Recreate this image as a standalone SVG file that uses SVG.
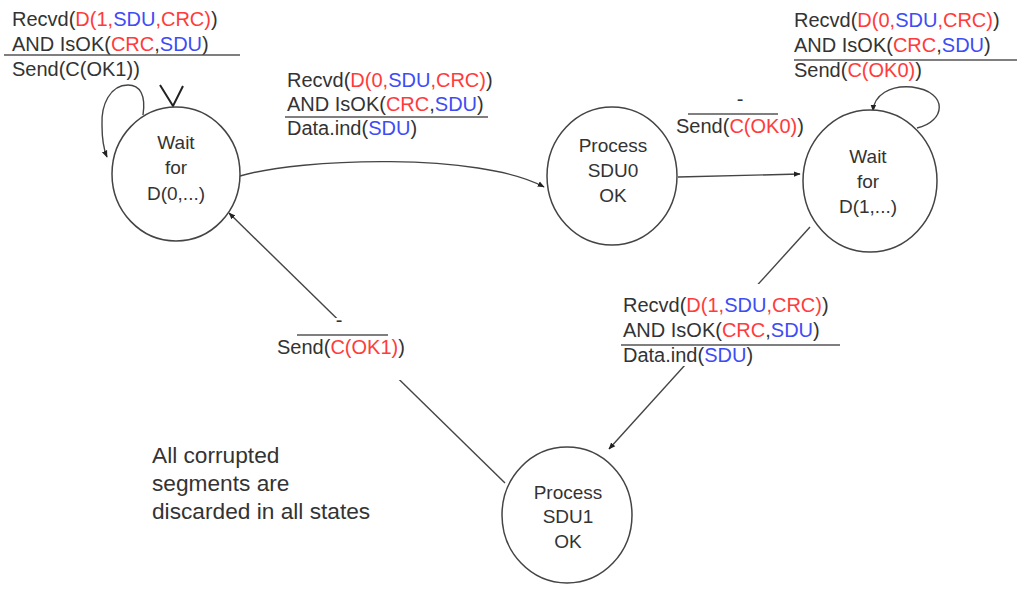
<svg xmlns="http://www.w3.org/2000/svg" width="1026" height="592" viewBox="0 0 1026 592">
<defs>
<style>
text{font-family:"Liberation Sans",Arial,Helvetica,sans-serif;fill:#333}
.lbl{font-size:20px}
.st{font-size:19px;text-anchor:middle}
.note{font-size:22.7px}
.r{fill:#ff3b3b}
.b{fill:#3d4cf5}
.node{fill:#fff;stroke:#444;stroke-width:1.5}
.edge{fill:none;stroke:#444;stroke-width:1.4}
.bar{stroke:#555;stroke-width:1.5}
</style>
<marker id="arr" viewBox="0 0 10 10" refX="9" refY="5" markerWidth="7" markerHeight="7" markerUnits="userSpaceOnUse" orient="auto">
<path d="M0,1 L10,5 L0,9 z" fill="#222"/>
</marker>
</defs>
<rect width="1026" height="592" fill="#fff"/>

<g id="connectors">
<path class="edge" d="M143,115 C146,95 140,85 128,85 C110,85 101,105 102,125 C102,140 104,150 107,157" marker-end="url(#arr)"/>
<polyline class="edge" points="160,85 173,106 183,86" style="stroke-width:2;stroke:#222"/>
<path class="edge" d="M240,176 C300,158 480,152 544,187" marker-end="url(#arr)"/>
<line class="edge" x1="678" y1="177" x2="800" y2="174" marker-end="url(#arr)"/>
<path class="edge" d="M917,128 C945,122 950,92 912,87 C890,85 874,95 873,111" marker-end="url(#arr)"/>
<line class="edge" x1="810" y1="227" x2="609" y2="449" marker-end="url(#arr)"/>
<line class="edge" x1="505" y1="483" x2="229" y2="213" marker-end="url(#arr)"/>
</g>

<g id="label-self0">
<text class="lbl" x="12" y="26">Recvd(<tspan class="r">D(1,</tspan><tspan class="b">SDU</tspan><tspan class="r">,CRC)</tspan>)</text>
<text class="lbl" x="12" y="51">AND IsOK(<tspan class="r">CRC</tspan>,<tspan class="b">SDU</tspan>)</text>
<line class="bar" x1="4" y1="55" x2="240" y2="55"/>
<text class="lbl" x="12" y="76">Send(C(OK1))</text>
</g>

<g id="label-0to1">
<text class="lbl" x="287" y="87">Recvd(<tspan class="r">D(0,</tspan><tspan class="b">SDU</tspan><tspan class="r">,CRC)</tspan>)</text>
<text class="lbl" x="287" y="111">AND IsOK(<tspan class="r">CRC</tspan>,<tspan class="b">SDU</tspan>)</text>
<line class="bar" x1="285" y1="117" x2="488" y2="117"/>
<text class="lbl" x="287" y="135">Data.ind(<tspan class="b">SDU</tspan>)</text>
</g>

<g id="label-p0tow1">
<text class="lbl" x="740" y="106" text-anchor="middle">-</text>
<line class="bar" x1="688" y1="114" x2="778" y2="114"/>
<text class="lbl" x="676" y="133">Send(<tspan class="r">C(OK0)</tspan>)</text>
</g>

<g id="label-self1">
<text class="lbl" x="794" y="27">Recvd(<tspan class="r">D(0,</tspan><tspan class="b">SDU</tspan><tspan class="r">,CRC)</tspan>)</text>
<text class="lbl" x="794" y="52">AND IsOK(<tspan class="r">CRC</tspan>,<tspan class="b">SDU</tspan>)</text>
<line class="bar" x1="794" y1="60" x2="1017" y2="60"/>
<text class="lbl" x="794" y="77">Send(<tspan class="r">C(OK0)</tspan>)</text>
</g>

<g id="label-1to1">
<rect x="616" y="284" width="228" height="82" fill="#fff"/>
<text class="lbl" x="623" y="312">Recvd(<tspan class="r">D(1,</tspan><tspan class="b">SDU</tspan><tspan class="r">,CRC)</tspan>)</text>
<text class="lbl" x="623" y="337">AND IsOK(<tspan class="r">CRC</tspan>,<tspan class="b">SDU</tspan>)</text>
<line class="bar" x1="621" y1="345" x2="840" y2="345"/>
<text class="lbl" x="623" y="362">Data.ind(<tspan class="b">SDU</tspan>)</text>
</g>

<g id="label-p1tow0">
<rect x="272" y="318" width="145" height="62" fill="#fff"/>
<text class="lbl" x="339" y="327" text-anchor="middle">-</text>
<line class="bar" x1="297" y1="335" x2="388" y2="335"/>
<text class="lbl" x="277" y="354">Send(<tspan class="r">C(OK1)</tspan>)</text>
</g>

<g id="wait0">
<ellipse class="node" cx="176" cy="174" rx="64" ry="67"/>
<text class="st" x="176" y="149">Wait</text>
<text class="st" x="176" y="174">for</text>
<text class="st" x="176" y="200">D(0,...)</text>
</g>

<g id="process0">
<ellipse class="node" cx="612" cy="176" rx="65" ry="69"/>
<text class="st" x="613" y="152">Process</text>
<text class="st" x="613" y="177">SDU0</text>
<text class="st" x="613" y="202">OK</text>
</g>

<g id="wait1">
<ellipse class="node" cx="870" cy="181" rx="67" ry="71"/>
<text class="st" x="868" y="163">Wait</text>
<text class="st" x="868" y="188">for</text>
<text class="st" x="868" y="213">D(1,...)</text>
</g>

<g id="process1">
<ellipse class="node" cx="567" cy="515" rx="65" ry="68"/>
<text class="st" x="568" y="499">Process</text>
<text class="st" x="568" y="523">SDU1</text>
<text class="st" x="568" y="548">OK</text>
</g>

<g id="note">
<text class="note" x="152" y="463">All corrupted</text>
<text class="note" x="152" y="491">segments are</text>
<text class="note" x="152" y="519">discarded in all states</text>
</g>
</svg>
